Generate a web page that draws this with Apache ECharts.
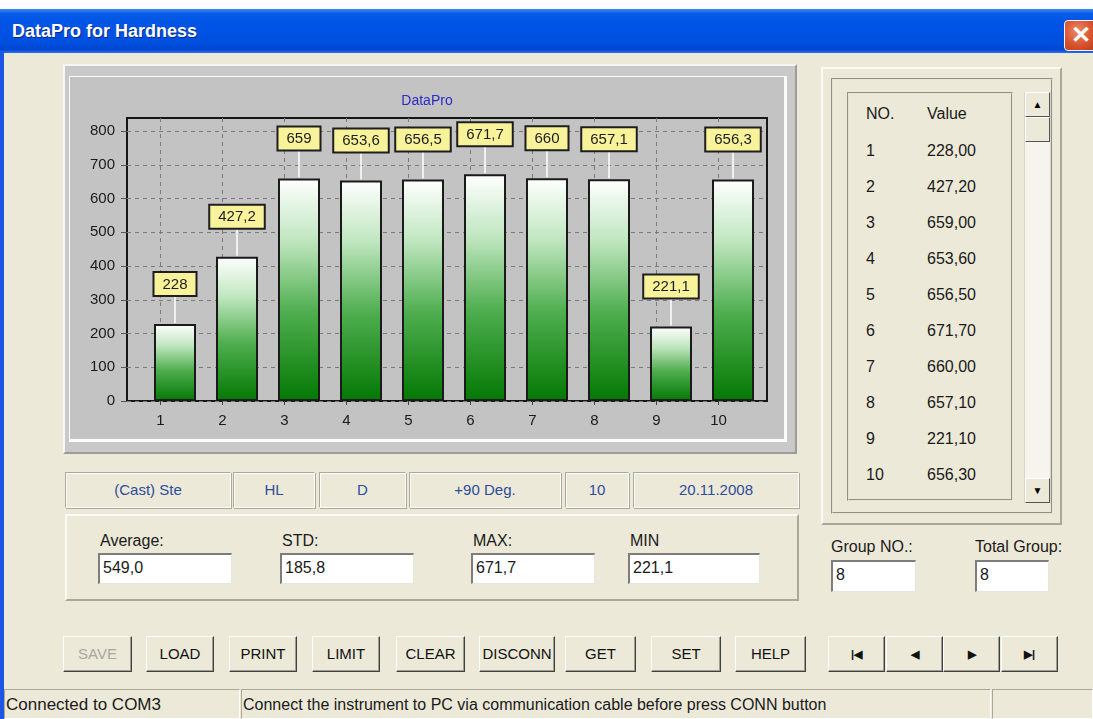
<!DOCTYPE html>
<html>
<head>
<meta charset="utf-8">
<script src="https://cdn.jsdelivr.net/npm/echarts@6/dist/echarts.min.js"></script>
<style>
html,body{margin:0;padding:0;width:1093px;height:719px;overflow:hidden;background:#ffffff;font-family:"Liberation Sans",Arial,sans-serif;color:#1a1a1a;}
.abs{position:absolute;box-sizing:border-box;}
#dlg{left:0;top:52px;width:1093px;height:667px;background:#ece9d8;}
#titlebar{left:0;top:9px;width:1093px;height:44px;background:linear-gradient(to bottom,#3d8df7 0%,#0a5ce8 10%,#0055e6 30%,#0050e0 75%,#0046d2 92%,#2b6ff0 100%);}
#titletext{left:12px;top:9px;height:44px;line-height:44px;color:#fff;font-weight:bold;font-size:18px;text-shadow:1px 1px 0 #0b2a86;}
#closebtn{left:1064px;top:20px;width:34px;height:31px;border:1px solid #f4f4f4;border-radius:4px;background:radial-gradient(circle at 40% 35%,#ec8a66 0%,#d8512d 55%,#b93a19 100%);color:#fff;font-size:24px;font-weight:bold;line-height:28px;text-align:left;padding-left:6px;}
#leftedge{left:0;top:52px;width:4px;height:667px;background:#1d56e4;}
#chartOuter{left:63px;top:64px;width:734px;height:390px;background:#c9c9c9;border-top:2px solid #f6f6f6;border-left:2px solid #f6f6f6;border-bottom:2px solid #9c9c9c;border-right:2px solid #9c9c9c;}
#chart{position:absolute;left:70px;top:77px;width:714px;height:362px;background:#c3c3c3;box-shadow:1px 1px 0 2px #fbfbfb, -1px -1px 0 0 #a5a5a5;}
.groove{border:2px groove #e6e4d6;}
.box{border-top:1px solid #aca899;border-left:1px solid #aca899;border-right:1px solid #fff;border-bottom:1px solid #fff;box-shadow:inset 1px 1px 0 #fff, 1px 1px 0 #aca899;}
.info{color:#2c4c9c;font-size:15px;text-align:center;line-height:34px;}
.lbl{font-size:16px;white-space:nowrap;}
.inp{background:#fff;border-top:2px solid #7d7d7d;border-left:2px solid #7d7d7d;border-right:1px solid #e8e6da;border-bottom:1px solid #e8e6da;font-size:16px;padding-left:3px;line-height:26px;}
.btn{background:#ece9d8;border-top:1px solid #ffffff;border-left:1px solid #ffffff;border-right:1px solid #3f3f3f;border-bottom:1px solid #3f3f3f;box-shadow:inset -1px -1px 0 #a09e92;font-size:15px;text-align:center;line-height:34px;color:#111;white-space:nowrap;}
.status{border-top:1px solid #aca899;border-left:1px solid #aca899;border-right:1px solid #fff;border-bottom:1px solid #fff;font-size:16px;line-height:29px;padding-left:1px;white-space:nowrap;overflow:hidden;}
.row{font-size:16px;white-space:nowrap;}
</style>
</head>
<body>
<div id="ui"></div>
<div id="chart"></div>
<script>
// ---------- data ----------
const categories = ['1', '2', '3', '4', '5', '6', '7', '8', '9', '10'];
const hardness = [228.0, 427.2, 659.0, 653.6, 656.5, 671.7, 660.0, 657.1, 221.1, 656.3];
const yTickMin = 0;
const yTickMax = 800;
const yTickStep = 100;
const chartTitle = 'DataPro';
const windowTitle = 'DataPro for Hardness';
const infoFields = ['(Cast) Ste', 'HL', 'D', '+90 Deg.', '10', '20.11.2008'];
const statLabels = ['Average:', 'STD:', 'MAX:', 'MIN'];
const statValues = ['549,0', '185,8', '671,7', '221,1'];
const groupLabels = ['Group NO.:', 'Total Group:'];
const groupValues = ['8', '8'];
const buttonLabels = ['SAVE', 'LOAD', 'PRINT', 'LIMIT', 'CLEAR', 'DISCONN', 'GET', 'SET', 'HELP'];
const navLabels = ['|&#9664;', '&#9664;', '&#9654;', '&#9654;|'];
const listHeaders = ['NO.', 'Value'];
const statusTexts = ['Connected to COM3', 'Connect the instrument to PC via communication cable before press CONN button', ''];

const fmt1 = v => String(v).replace('.', ',');
const fmt2 = v => v.toFixed(2).replace('.', ',');

// ---------- UI layout ----------
const ui = document.getElementById('ui');
function el(cls, css, html) {
  const d = document.createElement('div');
  d.className = 'abs ' + (cls || '');
  if (css) d.style.cssText = css;
  if (html !== undefined) d.innerHTML = html;
  ui.appendChild(d);
  return d;
}
const dlg = el('', ''); dlg.id = 'dlg';
const tb = el('', ''); tb.id = 'titlebar';
const tt = el('', '', windowTitle); tt.id = 'titletext';
const cb = el('', '', '&#x2715;'); cb.id = 'closebtn';
const le = el('', ''); le.id = 'leftedge';
const co = el('', ''); co.id = 'chartOuter';

// right list panel
el('', 'left:821px;top:67px;width:241px;height:458px;border-top:2px solid #fbfbf6;border-left:2px solid #fbfbf6;border-right:2px solid #aca899;border-bottom:2px solid #aca899;');
el('groove', 'left:831px;top:78px;width:222px;height:436px;');
el('groove', 'left:847px;top:92px;width:166px;height:409px;');
// scrollbar
el('', 'left:1024px;top:92px;width:27px;height:411px;background:#f5f4ef;border:1px solid #d8d6cb;');
const sbBtn = 'background:#ece9d8;border-top:1px solid #fff;border-left:1px solid #fff;border-right:1px solid #555;border-bottom:1px solid #555;font-size:10px;text-align:center;color:#000;';
el('', 'left:1025px;top:92px;width:25px;height:25px;line-height:23px;' + sbBtn, '&#9650;');
el('', 'left:1025px;top:117px;width:25px;height:25px;' + sbBtn, '');
el('', 'left:1025px;top:478px;width:25px;height:25px;line-height:23px;' + sbBtn, '&#9660;');
const rowX = [866, 927];
const rowY0 = 115, rowDy = 36;
el('row', `left:${rowX[0]}px;top:${rowY0 - 10}px;`, listHeaders[0]);
el('row', `left:${rowX[1]}px;top:${rowY0 - 10}px;`, listHeaders[1]);
hardness.forEach((v, i) => {
  const y = rowY0 + rowDy * (i + 1) + 1 - 10;
  el('row', `left:${rowX[0]}px;top:${y}px;`, categories[i]);
  el('row', `left:${rowX[1]}px;top:${y}px;`, fmt2(v));
});

// info row
const infoX = [[65, 231], [233, 315], [319, 406], [409, 561], [565, 629], [633, 799]];
infoFields.forEach((t, i) => {
  el('box info', `left:${infoX[i][0]}px;top:472px;width:${infoX[i][1] - infoX[i][0]}px;height:36px;`, t);
});

// stats panel
el('', 'left:65px;top:514px;width:734px;height:87px;border-top:2px solid #fbfbf6;border-left:2px solid #fbfbf6;border-right:2px solid #aca899;border-bottom:2px solid #aca899;');
const statX = [98, 280, 471, 628];
const statW = [134, 134, 124, 132];
statLabels.forEach((t, i) => {
  el('lbl', `left:${statX[i] + 2}px;top:532px;`, t);
  el('inp', `left:${statX[i]}px;top:553px;width:${statW[i]}px;height:31px;`, statValues[i]);
});

// group fields
const grpX = [831, 975], grpW = [85, 74];
groupLabels.forEach((t, i) => {
  el('lbl', `left:${grpX[i]}px;top:538px;`, t);
  el('inp', `left:${grpX[i]}px;top:560px;width:${grpW[i]}px;height:32px;`, groupValues[i]);
});

// buttons
const btnX = [63, 146, 229, 312, 396, 479, 565, 651, 735];
const btnW = [69, 68, 68, 68, 69, 76, 71, 70, 71];
buttonLabels.forEach((t, i) => {
  el('btn', `left:${btnX[i]}px;top:636px;width:${btnW[i]}px;height:36px;` + (i === 0 ? 'color:#a9a79c;' : ''), t);
});
const navX = [828, 886, 943, 1001];
navLabels.forEach((t, i) => {
  el('btn', `left:${navX[i]}px;top:636px;width:57px;height:36px;font-size:11px;font-weight:bold;`, t);
});

// status bar
const stX = [[4, 240], [241, 991], [992, 1093]];
statusTexts.forEach((t, i) => {
  el('status', `left:${stX[i][0]}px;top:689px;width:${stX[i][1] - stX[i][0]}px;height:30px;` + (i === 0 ? 'font-size:17px;' : ''), t);
});

// ---------- chart ----------
const chart = echarts.init(document.getElementById('chart'), null, { renderer: 'canvas' });
const fontFamily = '"Liberation Sans", Arial, sans-serif';
const dashed = { type: [4, 4], color: '#7a7a7a', width: 1 };
const labelGap = 29;
const option = {
  animation: false,
  backgroundColor: 'transparent',
  textStyle: { fontFamily },
  title: {
    text: chartTitle, left: 'center', top: 17, padding: 0,
    textStyle: { color: '#2a2ac8', fontSize: 14, fontWeight: 'normal', fontFamily }
  },
  grid: [
    { left: 57, top: 41, width: 640, height: 283, show: true, borderColor: '#161616', borderWidth: 2, backgroundColor: 'transparent' },
    { left: 57, top: 54, width: 640, height: 270 },
    { left: 90.5, top: 41, width: 558, height: 283 },
    { left: 74, top: 54, width: 620, height: 270 }
  ],
  xAxis: [
    { gridIndex: 0, type: 'category', data: categories, show: false },
    { gridIndex: 1, type: 'category', data: categories, show: false },
    {
      gridIndex: 2, type: 'category', data: categories, boundaryGap: false,
      axisLine: { show: false },
      axisTick: { show: true, length: 4, lineStyle: { color: '#444' } },
      axisLabel: { fontSize: 15, color: '#1a1a1a', margin: 12, fontFamily },
      splitLine: { show: true, lineStyle: dashed }
    },
    { gridIndex: 3, type: 'category', data: categories, show: false }
  ],
  yAxis: [
    { gridIndex: 0, type: 'value', min: yTickMin, max: yTickMax, show: false },
    {
      gridIndex: 1, type: 'value', min: yTickMin, max: yTickMax, interval: yTickStep,
      axisLine: { show: false },
      axisTick: { show: true, length: 6, lineStyle: { color: '#555' } },
      axisLabel: { fontSize: 15, color: '#1a1a1a', margin: 12, fontFamily },
      splitLine: { show: true, lineStyle: dashed }
    },
    { gridIndex: 2, type: 'value', min: yTickMin, max: yTickMax, show: false },
    { gridIndex: 3, type: 'value', min: yTickMin, max: yTickMax, show: false }
  ],
  series: [
    {
      type: 'custom',
      xAxisIndex: 3, yAxisIndex: 3,
      z: 1,
      silent: true,
      data: hardness.map((v, i) => [i, v]),
      renderItem: (params, api) => {
        const p = api.coord([api.value(0), api.value(1)]);
        return {
          type: 'line',
          shape: { x1: p[0], y1: p[1] - 1, x2: p[0], y2: p[1] - labelGap - 1 },
          style: { stroke: '#ffffff', lineWidth: 1.5 }
        };
      }
    },
    {
      type: 'bar',
      xAxisIndex: 3, yAxisIndex: 3,
      z: 2,
      data: hardness,
      barWidth: 42,
      itemStyle: {
        color: new echarts.graphic.LinearGradient(0, 0, 0, 1, [
          { offset: 0, color: '#ffffff' },
          { offset: 0.28, color: '#bfe6bf' },
          { offset: 0.6, color: '#4fae4f' },
          { offset: 1, color: '#037803' }
        ]),
        borderColor: '#1a1a1a', borderWidth: 2
      },
      label: {
        show: true, position: 'top', distance: labelGap,
        formatter: p => fmt1(p.value),
        fontSize: 15, color: '#1c1c1c', fontFamily,
        backgroundColor: '#f8f39a', borderColor: '#1e1e1e', borderWidth: 2,
        padding: [4, 8, 3, 8]
      }
    }
  ]
};
chart.setOption(option);
</script>
</body>
</html>
